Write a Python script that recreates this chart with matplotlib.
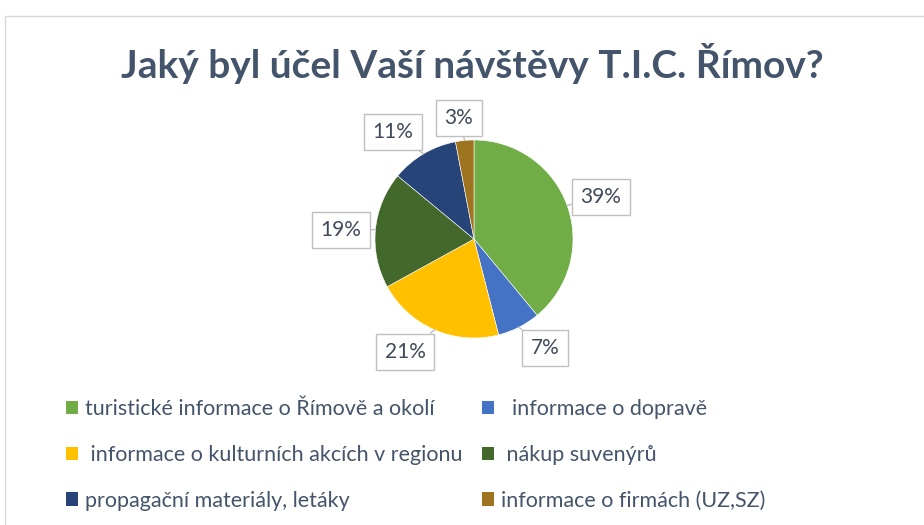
import matplotlib
matplotlib.use("Agg")
import matplotlib.pyplot as plt
import numpy as np
from matplotlib.patches import Rectangle, Patch

plt.rcParams['font.family'] = ['Lato', 'DejaVu Sans']

title = "Jaký byl účel Vaší návštěvy T.I.C. Římov?"
categories = [
    "turistické informace o Římově a okolí",
    "  informace o dopravě",
    " informace o kulturních akcích v regionu",
    " nákup suvenýrů",
    "propagační materiály, letáky",
    "informace o firmách (UZ,SZ)",
]
values = [39, 7, 21, 19, 11, 3]
colors = ["#70AD47", "#4472C4", "#FFC000", "#43682B", "#264478", "#9E7420"]

# label box centres in pixel coords (x, y from top)
label_pos = [(601, 197), (545, 348), (405, 352), (341, 230), (393, 132), (459, 118)]

W, H = 924, 525
text_col = "#44546A"

fig = plt.figure(figsize=(W / 100, H / 100), dpi=100)
ax = fig.add_axes([0, 0, 1, 1])
ax.set_xlim(0, W)
ax.set_ylim(0, H)
ax.set_aspect('equal')
ax.axis('off')

def Y(y):
    return H - y

# chart frame
ax.add_patch(Rectangle((5, -10), W, Y(16) + 10, fill=False, ec="#D9D9D9", lw=1))

ax.text(472, Y(64), title, ha='center', va='center', fontsize=28,
        fontweight='bold', color=text_col)

cx, cy, r = 474, Y(239), 99
wedges, _ = ax.pie(values, colors=colors, startangle=90, counterclock=False,
                   center=(cx, cy), radius=r, frame=True,
                   wedgeprops=dict(edgecolor='white', linewidth=0.4))
ax.set_xlim(0, W)
ax.set_ylim(0, H)
ax.axis('off')

for w, v, (lx, ly) in zip(wedges, values, label_pos):
    ang = np.deg2rad((w.theta1 + w.theta2) / 2)
    px, py = cx + r * np.cos(ang), cy + r * np.sin(ang)
    ax.annotate(f"{v}%", xy=(px, py), xytext=(lx, Y(ly)), ha='center', va='center',
                fontsize=15, color="#404A5A",
                bbox=dict(boxstyle='square,pad=0.4', fc='white', ec='#BFBFBF', lw=1),
                arrowprops=dict(arrowstyle='-', color='#BFBFBF', lw=1,
                                shrinkA=0, shrinkB=0))

# legend: two columns, filled row by row
leg_kw = dict(loc='upper left', frameon=False, fontsize=15.5, handlelength=0.58,
              handleheight=0.58, handletextpad=0.32, labelspacing=1.2,
              labelcolor=text_col, borderaxespad=0, borderpad=0)
for col, x0 in ((0, 66), (1, 482)):
    idx = [col, col + 2, col + 4]
    handles = [Patch(facecolor=colors[i], edgecolor='none') for i in idx]
    labels = [categories[i] for i in idx]
    fig.legend(handles, labels, bbox_to_anchor=(x0 / W, 1 - 399 / H), **leg_kw)

fig.savefig("out.png", dpi=100)
